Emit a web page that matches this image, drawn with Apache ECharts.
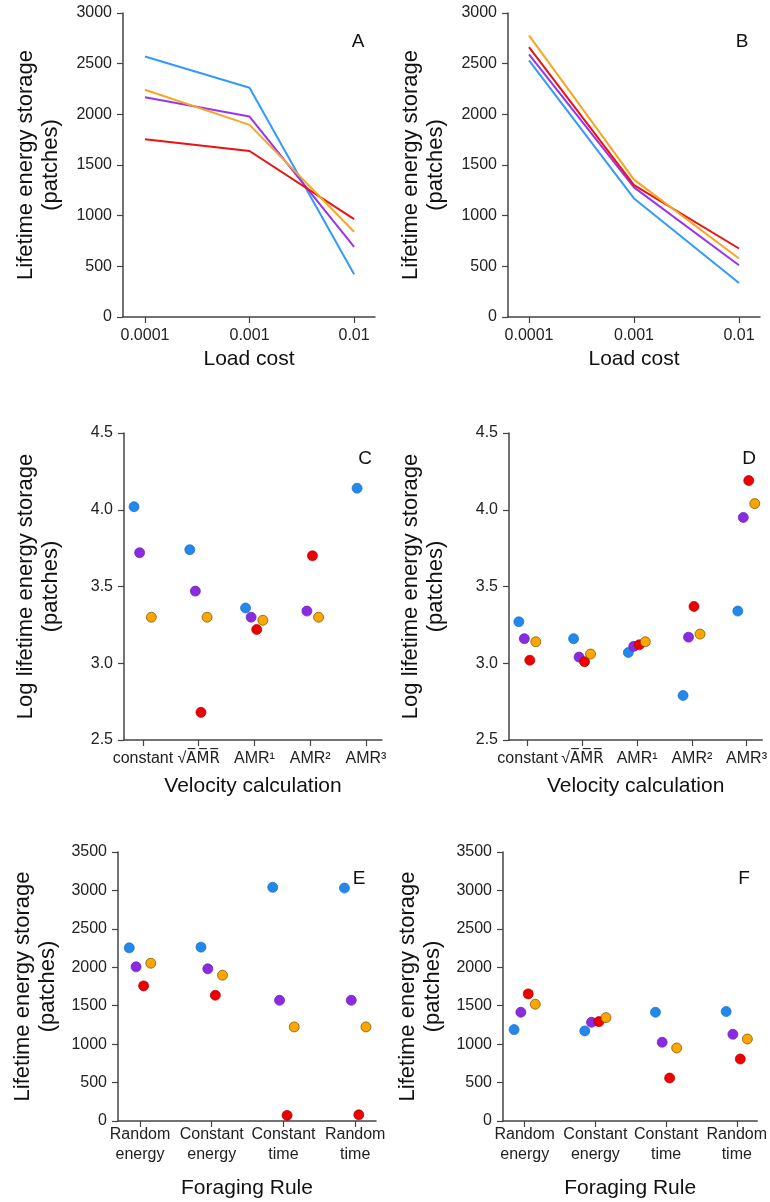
<!DOCTYPE html>
<html>
<head>
<meta charset="utf-8">
<script src="https://cdn.jsdelivr.net/npm/echarts@6/dist/echarts.min.js"></script>
<style>html,body{margin:0;padding:0;background:#fff}#c{width:770px;height:1202px}</style>
</head>
<body>
<div id="c"></div>
<script>
// ---------- data ----------
var loadCost = ['0.0001', '0.001', '0.01'];
var velocityCats = ['constant', '\u221AAMR', 'AMR\u00B9', 'AMR\u00B2', 'AMR\u00B3'];
var foragingCats = ['Random\nenergy', 'Constant\nenergy', 'Constant\ntime', 'Random\ntime'];
var groups = ['blue', 'purple', 'red', 'orange'];

// Panel A (lines)
var A_blue   = [2571, 2262, 422];
var A_purple = [2169, 1978, 692];
var A_red    = [1754, 1638, 966];
var A_orange = [2242, 1896, 841];
// Panel B (lines)
var B_blue   = [2532, 1170, 336];
var B_purple = [2591, 1279, 511];
var B_red    = [2664, 1302, 676];
var B_orange = [2779, 1356, 577];
// Panel C (log storage)
var C_blue   = [4.02, 3.74, 3.36, null, 4.14];
var C_purple = [3.72, 3.47, 3.30, 3.34, null];
var C_red    = [null, 2.68, 3.22, 3.70, null];
var C_orange = [3.30, 3.30, 3.28, 3.30, null];
// Panel D (log storage)
var D_blue   = [3.27, 3.16, 3.07, 2.79, 3.34];
var D_purple = [3.16, 3.04, 3.11, 3.17, 3.95];
var D_red    = [3.02, 3.01, 3.12, 3.37, 4.19];
var D_orange = [3.14, 3.06, 3.14, 3.19, 4.04];
// Panel E
var E_blue   = [2253, 2262, 3040, 3031];
var E_purple = [2006, 1980, 1571, 1571];
var E_red    = [1758, 1636, 73, 81];
var E_orange = [2053, 1897, 1224, 1224];
// Panel F
var F_blue   = [1189, 1172, 1415, 1424];
var F_purple = [1415, 1284, 1024, 1128];
var F_red    = [1654, 1293, 559, 807];
var F_orange = [1519, 1345, 950, 1067];

var yTicksLoad = [0, 500, 1000, 1500, 2000, 2500, 3000];
var yTicksLog = [2.5, 3.0, 3.5, 4.0, 4.5];
var yTicksForage = [0, 500, 1000, 1500, 2000, 2500, 3000, 3500];

// ---------- styling ----------
var FONT = 'Liberation Sans, Arial, sans-serif';
var lineColors = {blue: '#3399FF', purple: '#9933EE', red: '#EE1111', orange: '#F5A623'};
var dotColors = {blue: '#2288EE', purple: '#8A2BE2', red: '#EE0000', orange: '#FFA500'};
var dotBorders = {blue: '#1a6fc4', purple: '#6a1fb0', red: '#b00000', orange: '#6b5000'};
var dodgeVel = {blue: -0.16, purple: -0.06, red: 0.04, orange: 0.15};
var dodgeFor = {blue: -0.15, purple: -0.055, red: 0.05, orange: 0.15};
var AXC = '#444';

var grids = [
  {left: 123, top: 13, width: 252, height: 304},
  {left: 508, top: 13, width: 252, height: 304},
  {left: 124, top: 433, width: 258, height: 307},
  {left: 509, top: 433, width: 258, height: 307},
  {left: 118, top: 852, width: 258, height: 269},
  {left: 503, top: 852, width: 258, height: 269}
];

function idx(arr) { return arr.map(function (_, i) { return i; }); }
function fmtLabel(s) {
  if (s.charAt(0) === '\u221A') {
    var rest = s.slice(1).split('').join('\u0305') + '\u0305';
    return '{r|\u221A}{o|' + rest + '}';
  }
  return s;
}

function xAxisCfg(gi, cats, min, max, name, nameGap, labelMargin, lineH) {
  return {
    type: 'value', gridIndex: gi, min: min, max: max,
    splitLine: {show: false},
    axisLine: {show: true, onZero: false, lineStyle: {color: AXC, width: 1.5}},
    axisTick: {show: true, customValues: idx(cats), length: 6, lineStyle: {color: AXC, width: 1.2}},
    axisLabel: {
      customValues: idx(cats), margin: labelMargin, fontSize: 16, color: '#222', fontFamily: FONT,
      lineHeight: lineH,
      rich: {
        r: {fontSize: 16, color: '#222', fontFamily: FONT},
        o: {fontSize: 15, color: '#222', fontFamily: 'DejaVu Sans'}
      },
      formatter: function (v) { return fmtLabel(cats[Math.round(v)]); }
    },
    name: name, nameLocation: 'middle', nameGap: nameGap,
    nameTextStyle: {fontSize: 21, color: '#111', fontFamily: FONT, lineHeight: 25}
  };
}
function yAxisCfg(gi, ticks, interval, decimals, name, nameGap) {
  return {
    type: 'value', gridIndex: gi, min: ticks[0], max: ticks[ticks.length - 1], interval: interval,
    splitLine: {show: false},
    axisLine: {show: true, onZero: false, lineStyle: {color: AXC, width: 1.5}},
    axisTick: {show: true, length: 6, lineStyle: {color: AXC, width: 1.2}},
    axisLabel: {margin: 11, fontSize: 16, color: '#222', fontFamily: FONT,
      formatter: function (v) { return v.toFixed(decimals); }},
    name: name, nameLocation: 'middle', nameRotate: 90, nameGap: nameGap,
    nameTextStyle: {fontSize: 22, color: '#111', fontFamily: FONT, lineHeight: 25}
  };
}

var xAxes = [
  xAxisCfg(0, loadCost, -0.21, 2.2, 'Load cost', 30, 10, 18),
  xAxisCfg(1, loadCost, -0.2, 2.2, 'Load cost', 30, 10, 18),
  xAxisCfg(2, velocityCats, -0.34, 4.287, 'Velocity calculation', 34, 10, 18),
  xAxisCfg(3, velocityCats, -0.34, 4.287, 'Velocity calculation', 34, 10, 18),
  xAxisCfg(4, foragingCats, -0.307, 3.29, 'Foraging Rule', 55, 4, 20),
  xAxisCfg(5, foragingCats, -0.307, 3.29, 'Foraging Rule', 55, 4, 20)
];
var storeName = 'Lifetime energy storage\n(patches)';
var logName = 'Log lifetime energy storage\n(patches)';
var yAxes = [
  yAxisCfg(0, yTicksLoad, 500, 0, storeName, 60),
  yAxisCfg(1, yTicksLoad, 500, 0, storeName, 60),
  yAxisCfg(2, yTicksLog, 0.5, 1, logName, 61),
  yAxisCfg(3, yTicksLog, 0.5, 1, logName, 61),
  yAxisCfg(4, yTicksForage, 500, 0, storeName, 58),
  yAxisCfg(5, yTicksForage, 500, 0, storeName, 58)
];

var series = [];
function addLines(gi, sets) {
  groups.forEach(function (g) {
    series.push({
      type: 'line', xAxisIndex: gi, yAxisIndex: gi, symbol: 'none',
      lineStyle: {color: lineColors[g], width: 2},
      data: sets[g].map(function (v, i) { return [i, v]; })
    });
  });
}
function addDots(gi, sets, dodge) {
  groups.forEach(function (g) {
    var d = [];
    sets[g].forEach(function (v, i) { if (v !== null) d.push([i + dodge[g], v]); });
    series.push({
      type: 'scatter', xAxisIndex: gi, yAxisIndex: gi, symbol: 'circle', symbolSize: 10,
      itemStyle: {color: dotColors[g], borderColor: dotBorders[g], borderWidth: 0.7, opacity: 1},
      data: d
    });
  });
}
addLines(0, {blue: A_blue, purple: A_purple, red: A_red, orange: A_orange});
addLines(1, {blue: B_blue, purple: B_purple, red: B_red, orange: B_orange});
addDots(2, {blue: C_blue, purple: C_purple, red: C_red, orange: C_orange}, dodgeVel);
addDots(3, {blue: D_blue, purple: D_purple, red: D_red, orange: D_orange}, dodgeVel);
addDots(4, {blue: E_blue, purple: E_purple, red: E_red, orange: E_orange}, dodgeFor);
addDots(5, {blue: F_blue, purple: F_purple, red: F_red, orange: F_orange}, dodgeFor);

var letters = [['A', 358, 42], ['B', 742, 42], ['C', 365, 459], ['D', 749, 459], ['E', 359, 879], ['F', 744, 879]];
var graphics = letters.map(function (l) {
  return {type: 'text', x: l[1], y: l[2], style: {text: l[0], fontSize: 19, fontFamily: FONT, fill: '#111',
    align: 'center', verticalAlign: 'middle'}};
});

var chart = echarts.init(document.getElementById('c'), null, {renderer: 'canvas'});
chart.setOption({
  animation: false,
  backgroundColor: '#fff',
  grid: grids,
  xAxis: xAxes,
  yAxis: yAxes,
  series: series,
  graphic: graphics
});
</script>
</body>
</html>
